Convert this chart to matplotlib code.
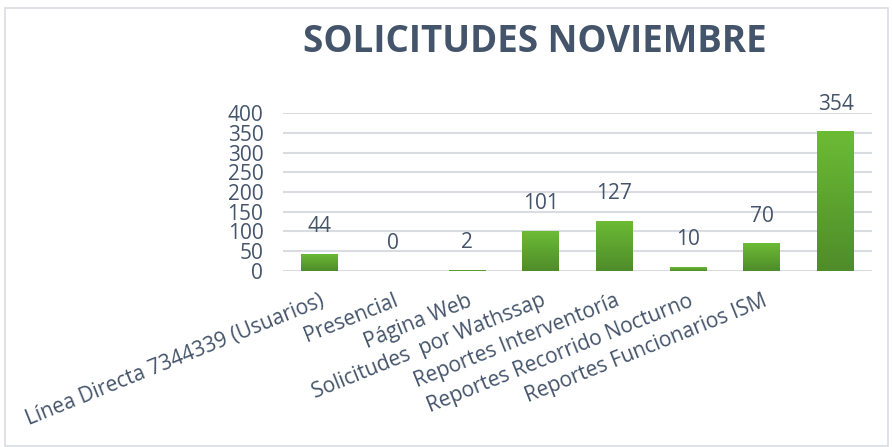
import numpy as np
import matplotlib.pyplot as plt
from matplotlib.patches import Rectangle
from matplotlib.colors import LinearSegmentedColormap

categorias = ["Línea Directa 7344339 (Usuarios)", "Presencial", "Página Web",
              "Solicitudes  por Wathssap", "Reportes Interventoría",
              "Reportes Recorrido Nocturno", "Reportes Funcionarios ISM", ""]
valores = [44, 0, 2, 101, 127, 10, 70, 354]
yticks = [0, 50, 100, 150, 200, 250, 300, 350, 400]

gris = "#44546A"
plt.rcParams["font.family"] = ["Open Sans", "DejaVu Sans"]

fig = plt.figure(figsize=(8.92, 4.47), dpi=100)
ax = fig.add_axes([0.317, 0.394, 0.661, 0.353])

x = np.arange(len(valores))
barras = ax.bar(x, valores, 0.5, color="#5EA530", zorder=3)

# degradado verde en cada barra
grad = np.linspace(0, 1, 100).reshape(-1, 1)
cmap = LinearSegmentedColormap.from_list("verde", ["#4F8C2A", "#6CBB35"])
for b in barras:
    if b.get_height() <= 0:
        continue
    im = ax.imshow(grad, cmap=cmap, aspect="auto", origin="lower",
                   extent=[b.get_x(), b.get_x() + b.get_width(), 0, b.get_height()],
                   zorder=4)
    im.set_clip_path(b)

for xi, v in zip(x, valores):
    ax.annotate(str(v), (xi, v), xytext=(0, 12), textcoords="offset points",
                ha="center", va="bottom", fontsize=15, color=gris, clip_on=False)

ax.set_xlim(-0.5, len(valores) - 0.5)
ax.set_ylim(0, 400)
ax.set_yticks(yticks)
ax.set_xticks(x)
ax.set_xticklabels(categorias, rotation=22, ha="right", rotation_mode="anchor",
                   fontsize=15, color=gris)
ax.tick_params(axis="y", labelsize=15, labelcolor=gris, length=0, pad=14)
ax.tick_params(axis="x", length=0, pad=14)
ax.grid(axis="y", color="#D9DCE1", lw=1.5, zorder=0)
for s in ax.spines.values():
    s.set_visible(False)

fig.text(0.6, 0.905, "SOLICITUDES NOVIEMBRE", ha="center", va="center",
         fontsize=26.5, fontweight="bold", color=gris)

fig.patches.append(Rectangle((0.006, 0.003), 0.99, 0.98, transform=fig.transFigure,
                             fill=False, edgecolor="#D9DCE1", lw=1.2))

fig.savefig("out.png", dpi=100)
